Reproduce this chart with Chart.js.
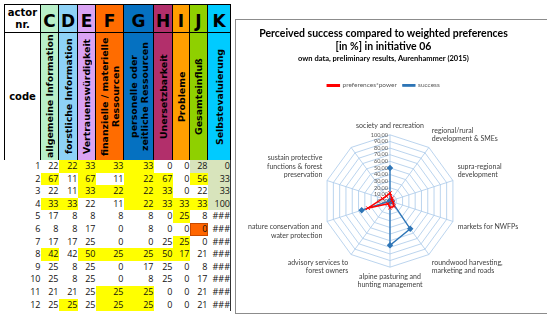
<!DOCTYPE html>
<html>
<head>
<meta charset="utf-8">
<script src="https://cdn.jsdelivr.net/npm/chart.js@4/dist/chart.umd.min.js"></script>
<style>
  body { margin: 0; background: #fff; width: 550px; height: 322px; overflow: hidden; position: relative; }
  #tbl { position: absolute; left: 4px; top: 4px; border-collapse: collapse; table-layout: fixed; font-family: "Open Sans", sans-serif; }
  #tbl td { padding: 0; overflow: hidden; white-space: nowrap; }
  .hd1 td { height: 27px; border: 1px solid #000; font-family: "DejaVu Sans", sans-serif; font-weight: bold; text-align: center; }
  .hd1 td.letter { font-size: 17px; vertical-align: bottom; line-height: 22px; }
  .hd1 td.actor { font-size: 10px; line-height: 12px; vertical-align: middle; background: #fff; }
  .hd2 td { height: 127px; border-left: 1px solid #000; border-right: 1px solid #000; }
  .hd2 td.code { font-family: "DejaVu Sans", sans-serif; font-weight: bold; font-size: 10px; text-align: center; }
  .vt { writing-mode: vertical-rl; transform: rotate(180deg); font-family: "DejaVu Sans", sans-serif; font-weight: bold; font-size: 9.4px; line-height: 11px; text-align: center; margin: 0 auto; height: 127px; display: flex; justify-content: center; }
  .row td { height: 12.6px; font-size: 9px; line-height: 12.6px; text-align: right; padding-right: 3px; color: #111; box-sizing: border-box; }
  .row td.nr { padding-right: 2px; }
  .row td.last { border-right: 1px solid #333; padding-right: 2px; }
  .y { background: #ffff00; }
  .g { background: #d8e4bc; }
  .o { background: #ff6600; outline: 1px solid #c84a00; outline-offset: -1px; }
  #box { position: absolute; left: 235px; top: 19px; width: 311px; height: 293px; border-top: 1px solid #8c8c8c; border-bottom: 1px solid #8c8c8c; border-left: 1px solid #8c8c8c; }
  #radar { position: absolute; left: 1px; top: 0; }
</style>
</head>
<body>
<table id="tbl"></table>
<div id="box"><canvas id="radar" width="309" height="292"></canvas></div>
<script>
// table data
const actorNr    = [1, 2, 3, 4, 5, 6, 7, 8, 9, 10, 11, 12];
const colLetters = ['C', 'D', 'E', 'F', 'G', 'H', 'I', 'J', 'K'];
const colNames   = [['allgemeine Information'], ['forstliche Information'], ['Vertrauenswürdigkeit'],
                    ['finanzielle / materielle', 'Ressourcen'], ['personelle oder', 'zeitliche Ressourcen'],
                    ['Unersetzbarkeit'], ['Probleme'], ['Gesamteinfluß'], ['Selbstevaluierung']];
const colColors  = ['#b9f0c9', '#8ed2f6', '#daa3f3', '#ff6c00', '#0571c1', '#b22f6b', '#ff9f00', '#8fd000', '#00cbff'];
const colWidths  = [18, 19, 18, 28, 30, 19, 17, 18, 23];
const tableValues = [
  [22, 22, 33, 33, 33, 0, 0, 28, 0],
  [67, 11, 67, 11, 22, 67, 0, 56, 33],
  [22, 11, 33, 22, 22, 33, 0, 22, 33],
  [33, 33, 22, 11, 22, 33, 33, 33, 100],
  [17, 8, 8, 8, 8, 0, 25, 8, '###'],
  [8, 8, 17, 0, 8, 0, 0, 0, '###'],
  [17, 17, 25, 0, 0, 25, 25, 0, '###'],
  [42, 42, 50, 25, 25, 50, 17, 21, '###'],
  [25, 8, 25, 0, 17, 25, 0, 8, '###'],
  [25, 8, 25, 0, 8, 25, 0, 17, '###'],
  [21, 21, 25, 25, 25, 0, 0, 21, '###'],
  [25, 25, 25, 25, 25, 0, 0, 21, '###']
];
// y = yellow, g = light green, o = orange
const cellMarks = [
  '.yyyy..gg', 'y.y.yy.yg', '..yyyy..g', 'yy..yyyyg',
  '......y..', '.......o.', '......y..', 'y.yyyyy..',
  '.........', '.........', '...yy....', '.y.yy....'
];

// radar data
const categories = [
  'society and recreation',
  ['regional/rural', 'development & SMEs'],
  ['supra-regional', 'development'],
  'markets for NWFPs',
  ['roundwood harvesting,', 'marketing and roads'],
  ['alpine pasturing and', 'hunting management'],
  ['advisory services to', 'forest owners'],
  ['nature conservation and', 'water protection'],
  ['sustain protective', 'functions & forest', 'preservation'],
  ''
];
const preferencesPower = [12, 5, 3, 5, 10, 10, 5, 35, 12, 9];
const success          = [50, 0, 0, 3, 52, 67, 0, 45, 0, 0];
const tickValues = [0, 10, 20, 30, 40, 50, 60, 70, 80, 90, 100];
const tickLabels = ['0,00', '10,00', '20,00', '30,00', '40,00', '50,00', '60,00', '70,00', '80,00', '90,00', '100,00'];

// build table
const tbl = document.getElementById('tbl');
let html = '<colgroup><col style="width:36px">';
colWidths.forEach(w => html += `<col style="width:${w}px">`);
html += '</colgroup>';
html += '<tr class="hd1"><td class="actor">actor<br>nr.</td>';
colLetters.forEach((l, i) => html += `<td class="letter" style="background:${colColors[i]}">${l}</td>`);
html += '</tr><tr class="hd2"><td class="code">code</td>';
colNames.forEach((n, i) => html += `<td style="background:${colColors[i]}"><div class="vt">${n.join('<br>')}</div></td>`);
html += '</tr>';
tableValues.forEach((row, r) => {
  html += `<tr class="row"><td class="nr">${actorNr[r]}</td>`;
  row.forEach((v, c) => {
    const m = cellMarks[r][c];
    const cls = (m === '.' ? '' : m) + (c === row.length - 1 ? ' last' : '');
    html += `<td class="${cls}">${v}</td>`;
  });
  html += '</tr>';
});
tbl.innerHTML = html;

// tick labels to the left of the vertical axis, like Excel
const tickPlugin = {
  id: 'excelTicks',
  beforeDatasetsDraw(chart) {
    const s = chart.scales.r;
    const ctx = chart.ctx;
    ctx.save();
    ctx.font = '5.5px Lato';
    ctx.fillStyle = '#595959';
    ctx.textAlign = 'right';
    ctx.textBaseline = 'middle';
    tickValues.forEach((v, i) => {
      const d = s.getDistanceFromCenterForValue(v);
      ctx.fillText(tickLabels[i], s.xCenter - 2, s.yCenter - d);
    });
    ctx.restore();
  }
};

new Chart(document.getElementById('radar'), {
  type: 'radar',
  data: {
    labels: categories,
    datasets: [
      {
        label: 'preferences*power', data: preferencesPower,
        borderColor: '#ff0000', backgroundColor: '#ff0000', borderWidth: 1.5, fill: false,
        pointStyle: 'crossRot', pointRadius: 2.5, pointBorderWidth: 1, pointBorderColor: '#ff0000'
      },
      {
        label: 'success', data: success,
        borderColor: '#2e75b6', backgroundColor: '#2e75b6', borderWidth: 1.3, fill: false,
        pointStyle: 'rectRot', pointRadius: 2.3, pointBackgroundColor: '#2e75b6', pointBorderColor: '#2e75b6'
      }
    ]
  },
  options: {
    responsive: false,
    animation: false,
    layout: { padding: { left: 4, right: 20, top: 0, bottom: 0 } },
    plugins: {
      title: {
        display: true,
        text: ['Perceived success compared to weighted preferences', '[in %] in initiative 06'],
        color: '#000', font: { family: 'Lato', weight: 'bold', size: 10.5, lineHeight: 1.15 },
        padding: { top: 8, bottom: 2 }
      },
      subtitle: {
        display: true,
        text: 'own data, preliminary results, Aurenhammer (2015)',
        color: '#000', font: { family: 'Lato', weight: 'bold', size: 7.5 },
        padding: { top: 0, bottom: 13 }
      },
      legend: {
        position: 'top',
        labels: { color: '#595959', font: { family: 'Lato', size: 6.5 }, boxWidth: 12, boxHeight: 1.5, padding: 6 }
      },
      tooltip: { enabled: false }
    },
    scales: {
      r: {
        min: 0, max: 100,
        ticks: { stepSize: 10, display: false },
        grid: { color: '#a9c9ea', lineWidth: 0.8 },
        angleLines: { color: '#a9c9ea', lineWidth: 0.8 },
        pointLabels: { color: '#404040', font: { family: 'Lato', size: 7 }, padding: 5 }
      }
    }
  },
  plugins: [tickPlugin]
});
</script>
</body>
</html>
